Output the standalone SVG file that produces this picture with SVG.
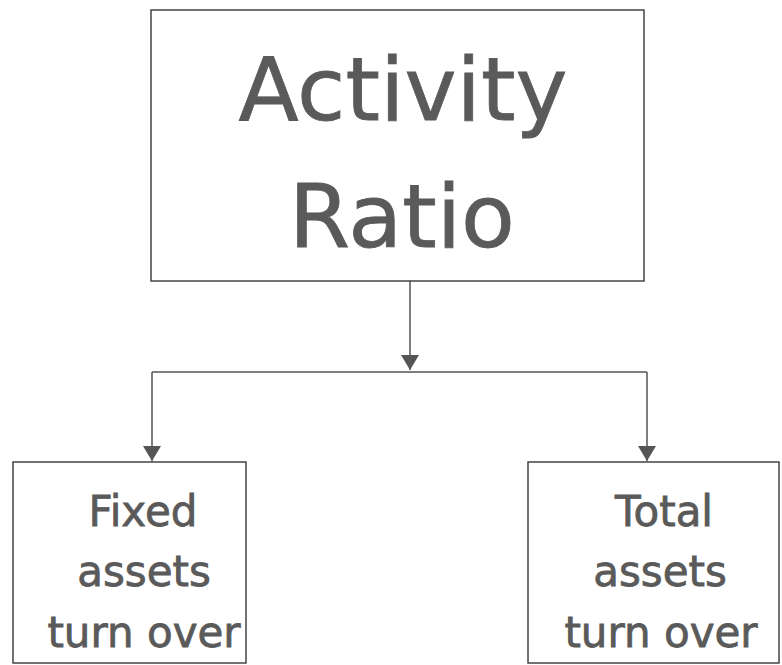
<svg xmlns="http://www.w3.org/2000/svg" width="782" height="665" viewBox="0 0 782 665">
<style>
.box{fill:#fff;stroke:#444;stroke-width:1.5}
.t{font-family:"DejaVu Sans","Liberation Sans",sans-serif;fill:#5a5a5a;text-anchor:middle;stroke:#5a5a5a;stroke-width:0.8}
.big{font-size:88px}
.sm{font-size:42px}
.c{fill:none;stroke:#555;stroke-width:1.5}
</style>
<defs>
<marker id="ah" viewBox="0 0 15 18" refX="15" refY="9" markerWidth="15" markerHeight="18" markerUnits="userSpaceOnUse" orient="auto">
<path d="M0,0 L15,9 L0,18 Z" fill="#555"/>
</marker>
</defs>
<rect width="782" height="665" fill="#fff"/>
<g id="connectors">
<path class="c" d="M410,281 V370" marker-end="url(#ah)"/>
<path class="c" d="M152,372 H647"/>
<path class="c" d="M152,372 V461" marker-end="url(#ah)"/>
<path class="c" d="M647,372 V461" marker-end="url(#ah)"/>
</g>
<g id="activity-ratio">
<rect class="box" x="151" y="10" width="493" height="271"/>
<text class="t big" x="403" y="120">Activity</text>
<text class="t big" x="402" y="247">Ratio</text>
</g>
<g id="fixed-assets">
<rect class="box" x="13" y="462" width="233" height="201"/>
<text class="t sm" x="143" y="526">Fixed</text>
<text class="t sm" x="144" y="586">assets</text>
<text class="t sm" x="144" y="647">turn over</text>
</g>
<g id="total-assets">
<rect class="box" x="528" y="462" width="251" height="201"/>
<text class="t sm" x="664" y="526">Total</text>
<text class="t sm" x="660" y="586">assets</text>
<text class="t sm" x="661" y="647">turn over</text>
</g>
</svg>
